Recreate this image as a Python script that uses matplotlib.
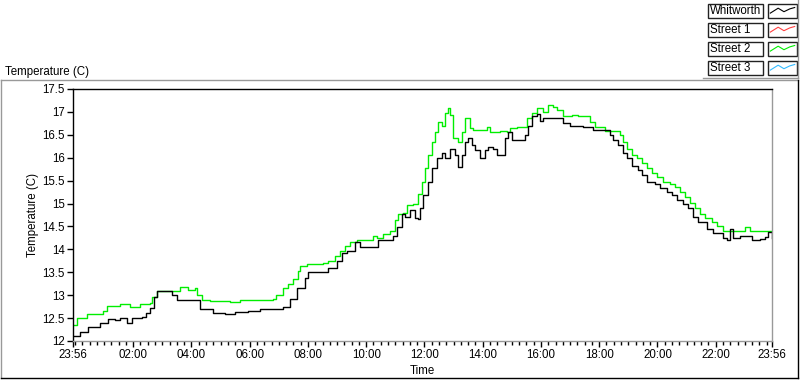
import matplotlib
matplotlib.use('Agg')
import matplotlib.pyplot as plt
from matplotlib.lines import Line2D
from matplotlib.patches import Rectangle
import numpy as np

# hours after 23:56 -> temperature (C)
whit_t = [0.00, 0.24, 0.52, 0.93, 1.20, 1.44, 1.61, 1.85, 2.03, 2.37, 2.51, 2.64, 2.78, 2.88,
          3.23, 3.40, 3.57, 4.26, 4.36, 4.81, 5.22, 5.56, 6.01, 6.42, 6.94, 7.21, 7.45, 7.69,
          7.97, 8.07, 8.65, 8.76, 9.06, 9.24, 9.41, 9.68, 9.85, 10.30, 10.47, 10.78, 10.99,
          11.12, 11.30, 11.40, 11.57, 11.74, 11.85, 11.91, 12.02, 12.19, 12.33, 12.50, 12.67,
          12.77, 12.94, 13.12, 13.22, 13.36, 13.46, 13.56, 13.70, 13.80, 13.97, 14.15, 14.25,
          14.42, 14.56, 14.66, 14.83, 14.94, 15.07, 15.45, 15.52, 15.62, 15.76, 15.93, 16.03,
          16.14, 16.48, 16.82, 17.06, 17.51, 17.85, 18.44, 18.54, 18.71, 18.88, 19.02, 19.19,
          19.40, 19.54, 19.71, 19.98, 20.15, 20.39, 20.57, 20.74, 20.94, 21.12, 21.29, 21.46,
          21.77, 21.97, 22.32, 22.46, 22.56, 22.66, 22.90, 23.24, 23.31, 23.59, 23.76, 23.86, 24.00]
whit_v = [12.10, 12.20, 12.30, 12.40, 12.48, 12.45, 12.50, 12.40, 12.50, 12.52, 12.62, 12.73, 12.95, 13.10,
          13.10, 13.00, 12.90, 12.90, 12.70, 12.62, 12.60, 12.63, 12.65, 12.70, 12.70, 12.75, 12.92, 13.16,
          13.38, 13.50, 13.50, 13.60, 13.75, 13.93, 13.97, 14.15, 14.06, 14.06, 14.20, 14.20, 14.30,
          14.48, 14.78, 14.70, 14.85, 14.68, 14.67, 14.90, 15.18, 15.46, 15.77, 16.00, 16.10,
          16.00, 16.20, 16.05, 15.80, 16.05, 16.34, 16.43, 16.27, 16.16, 16.00, 16.16, 16.23,
          16.20, 16.07, 16.07, 16.43, 16.56, 16.38, 16.38, 16.50, 16.70, 16.90, 16.95, 16.80,
          16.87, 16.87, 16.76, 16.70, 16.68, 16.60, 16.50, 16.38, 16.27, 16.10, 15.99, 15.83,
          15.73, 15.62, 15.48, 15.42, 15.33, 15.25, 15.18, 15.07, 15.00, 14.90, 14.70, 14.59,
          14.45, 14.35, 14.24, 14.20, 14.45, 14.24, 14.30, 14.30, 14.20, 14.22, 14.26, 14.37, 14.25]

st2_t = [0.00, 0.14, 0.48, 1.03, 1.17, 1.61, 1.96, 2.30, 2.64, 2.71, 2.88, 3.57, 3.67, 3.95, 4.19,
         4.26, 4.43, 4.70, 5.39, 5.73, 6.42, 6.87, 6.97, 7.21, 7.38, 7.55, 7.73, 7.79, 8.03, 8.58,
         8.76, 9.00, 9.17, 9.34, 9.51, 9.75, 10.20, 10.30, 10.44, 10.64, 10.88, 11.06, 11.16,
         11.33, 11.47, 11.67, 11.85, 11.98, 12.09, 12.19, 12.33, 12.43, 12.53, 12.67, 12.77,
         12.88, 12.94, 13.05, 13.22, 13.36, 13.46, 13.53, 13.63, 13.73, 13.97, 14.21, 14.32,
         14.66, 14.90, 15.00, 15.24, 15.45, 15.59, 15.76, 15.93, 16.14, 16.31, 16.48, 16.62,
         16.82, 17.13, 17.34, 17.75, 17.92, 18.27, 18.68, 18.78, 18.88, 19.02, 19.19, 19.36,
         19.54, 19.71, 19.88, 20.05, 20.26, 20.50, 20.67, 20.84, 21.01, 21.18, 21.36, 21.53,
         21.70, 21.94, 22.11, 22.32, 22.97, 23.07, 23.24, 24.00]
st2_v = [12.35, 12.50, 12.60, 12.66, 12.77, 12.80, 12.75, 12.80, 12.82, 12.95, 13.10, 13.10, 13.17, 13.12, 13.15,
         13.00, 12.90, 12.88, 12.86, 12.90, 12.90, 12.92, 13.00, 13.16, 13.25, 13.36, 13.53, 13.64, 13.68, 13.70,
         13.75, 13.86, 13.97, 14.08, 14.15, 14.20, 14.20, 14.30, 14.25, 14.34, 14.40, 14.63, 14.78,
         14.80, 14.96, 14.98, 15.20, 15.46, 15.77, 16.05, 16.34, 16.56, 16.78, 16.70, 16.97,
         17.08, 16.93, 16.43, 16.34, 16.56, 16.87, 16.87, 16.65, 16.60, 16.60, 16.67, 16.56,
         16.58, 16.56, 16.65, 16.67, 16.67, 16.87, 16.97, 17.08, 17.00, 17.15, 17.10, 17.05,
         16.90, 16.93, 16.90, 16.78, 16.67, 16.58, 16.58, 16.49, 16.34, 16.20, 16.07, 15.99,
         15.88, 15.77, 15.66, 15.57, 15.46, 15.42, 15.36, 15.25, 15.14, 15.02, 14.90, 14.78,
         14.68, 14.59, 14.52, 14.39, 14.39, 14.48, 14.39, 14.39]

tick_labels = ["23:56", "02:00", "04:00", "06:00", "08:00", "10:00", "12:00",
               "14:00", "16:00", "18:00", "20:00", "22:00", "23:56"]
y_ticks = [12, 12.5, 13, 13.5, 14, 14.5, 15, 15.5, 16, 16.5, 17, 17.5]
legend_names = ["Whitworth", "Street 1", "Street 2", "Street 3"]
legend_cols = ["black", "#ff4040", "#00ee00", "#33bbff"]

W, H = 800, 380
plt.rcParams['font.family'] = 'Liberation Sans'
fs = 8.3
fig = plt.figure(figsize=(W / 100, H / 100), dpi=100)

def fx(x):
    return x / W

def fy(y):
    return 1 - y / H

def hrs(s):
    h, m = map(int, s.split(':'))
    return ((h * 60 + m) - (23 * 60 + 56)) % 1440 / 60

# outer frame
fig.add_artist(Line2D([fx(1), fx(798)], [fy(80), fy(80)], color='#999999', lw=1))
fig.add_artist(Line2D([fx(1), fx(1)], [fy(80), fy(378)], color='#999999', lw=1))
fig.add_artist(Line2D([fx(1), fx(798)], [fy(378), fy(378)], color='black', lw=1))
fig.add_artist(Line2D([fx(798), fx(798)], [fy(80), fy(378)], color='black', lw=1))

fig.text(fx(5), fy(72), "Temperature (C)", fontsize=fs, va='center', ha='left')

ax = fig.add_axes([fx(73), fy(341), 699 / W, 252 / H])
ax.plot(st2_t, st2_v, color='#00ee00', lw=1, drawstyle='steps-post')
ax.plot(whit_t, whit_v, color='black', lw=1, drawstyle='steps-post')
ax.set_xlim(0, 24)
ax.set_ylim(12, 17.5)

xpos = [hrs(s) for s in tick_labels]
xpos[-1] = 24
ax.set_xticks(xpos)
ax.set_xticklabels(tick_labels)
minors = [4 / 60 + k * 0.25 for k in range(96) if not (k % 8 == 0 and k > 0)]
ax.set_xticks(minors, minor=True)
ax.set_yticks(y_ticks)
ax.set_yticklabels(["%g" % v for v in y_ticks])
ax.tick_params(axis='both', which='major', direction='out', length=4, width=1,
               labelsize=fs, pad=2)
ax.tick_params(axis='x', which='minor', direction='out', length=3, width=1)
ax.set_xlabel("Time", fontsize=fs, labelpad=3)
ax.set_ylabel("Temperature (C)", fontsize=fs, labelpad=2)
for s in ['left', 'top']:
    ax.spines[s].set_color('black')
for s in ['right', 'bottom']:
    ax.spines[s].set_color('#999999')
for s in ax.spines.values():
    s.set_linewidth(1)

# legend boxes
fig.add_artist(Line2D([fx(703), fx(798)], [fy(78), fy(78)], color='#999999', lw=1))
fig.add_artist(Line2D([fx(798), fx(798)], [fy(0), fy(78)], color='#999999', lw=1))
zx = [0.08, 0.35, 0.55, 0.75, 0.92]
zy = [0.65, 0.3, 0.55, 0.35, 0.25]
for i, (name, col) in enumerate(zip(legend_names, legend_cols)):
    top = 4 + i * 19
    fig.add_artist(Rectangle((fx(708), fy(top + 14)), 55 / W, 14 / H, fill=False,
                             edgecolor='#222222', lw=1))
    fig.text(fx(710), fy(top + 7), name, fontsize=fs, va='center', ha='left')
    fig.add_artist(Rectangle((fx(768), fy(top + 14)), 29 / W, 14 / H, fill=False,
                             edgecolor='#222222', lw=1))
    fig.add_artist(Line2D([fx(768 + 29 * a) for a in zx], [fy(top + 14 * b) for b in zy],
                          color=col, lw=0.8))

fig.savefig('out.png', dpi=100)
